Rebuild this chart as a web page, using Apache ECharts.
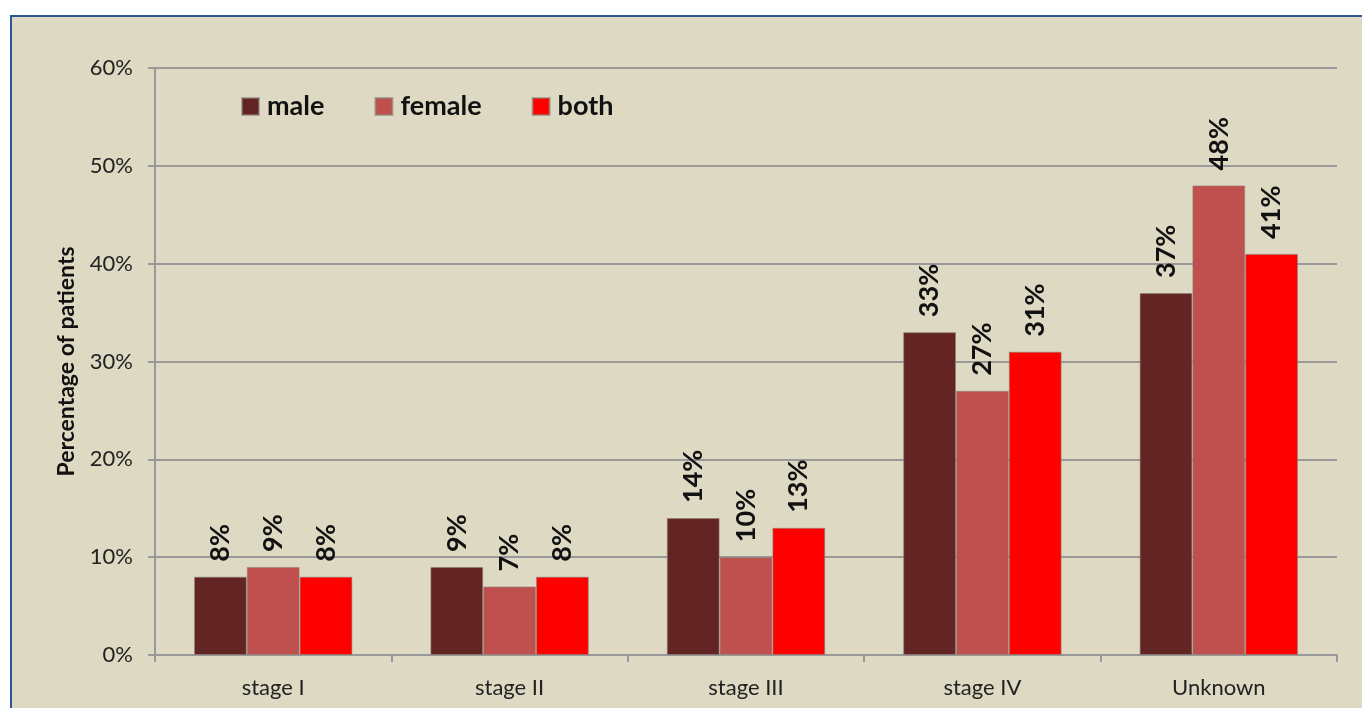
<!DOCTYPE html>
<html>

<head>
    <meta charset="utf-8">
    <title>Percentage of patients by stage</title>
    <style>
        body {
            margin: 0;
            background: #ffffff;
        }
        #frame {
            position: absolute;
            left: 10px;
            top: 15px;
            width: 1350px;
            height: 691px;
            background: #DDD9C3;
            border-top: 2px solid #2E5597;
            border-left: 2px solid #2E5597;
        }
        #main {
            position: absolute;
            left: 0;
            top: 0;
            width: 1362px;
            height: 708px;
        }
    </style>
</head>

<body>
<div id="frame"></div>
<div id="main"></div>

<script src="https://cdn.jsdelivr.net/npm/echarts@6/dist/echarts.min.js"></script>
<script>
    // chart data
    var categories = ['stage I', 'stage II', 'stage III', 'stage IV', 'Unknown'];
    var maleValues = [8, 9, 14, 33, 37];
    var femaleValues = [9, 7, 10, 27, 48];
    var bothValues = [8, 8, 13, 31, 41];
    var yTicks = [0, 10, 20, 30, 40, 50, 60];

    var myChart = echarts.init(document.getElementById('main'));

    var labelStyle = {
        show: true,
        position: 'top',
        rotate: 90,
        align: 'left',
        verticalAlign: 'middle',
        distance: 15,
        fontFamily: 'Lato',
        fontWeight: 'bold',
        fontSize: 27,
        color: '#111',
        formatter: '{c}%'
    };

    function makeSeries(name, data, color) {
        return {
            name: name,
            type: 'bar',
            data: data,
            barGap: '0%',
            barCategoryGap: '33%',
            itemStyle: {
                color: color,
                borderColor: 'rgba(140,130,120,0.6)',
                borderWidth: 1
            },
            label: labelStyle
        };
    }

    var option = {
        animation: false,
        textStyle: {
            fontFamily: 'Lato'
        },
        legend: {
            left: 236,
            top: 88,
            itemWidth: 17,
            itemHeight: 17,
            itemGap: 50,
            icon: 'rect',
            textStyle: {
                fontFamily: 'Lato',
                fontWeight: 'bold',
                fontSize: 27,
                color: '#111',
                padding: [0, 0, 0, 3]
            },
            data: ['male', 'female', 'both']
        },
        grid: {
            left: 155,
            right: 25,
            top: 68,
            bottom: 53,
            containLabel: false
        },
        xAxis: {
            type: 'category',
            data: categories,
            axisLine: {
                lineStyle: {color: '#999', width: 2}
            },
            axisTick: {
                show: true,
                length: 7,
                lineStyle: {color: '#999', width: 2}
            },
            axisLabel: {
                margin: 22,
                fontSize: 22,
                color: '#222'
            }
        },
        yAxis: {
            type: 'value',
            min: yTicks[0],
            max: yTicks[yTicks.length - 1],
            interval: 10,
            name: 'Percentage of patients',
            nameLocation: 'middle',
            nameGap: 77,
            nameTextStyle: {
                fontFamily: 'Lato',
                fontWeight: 'bold',
                fontSize: 23,
                color: '#111'
            },
            axisLine: {
                show: true,
                lineStyle: {color: '#999', width: 2}
            },
            axisTick: {
                show: true,
                length: 7,
                lineStyle: {color: '#999', width: 2}
            },
            axisLabel: {
                margin: 22,
                fontSize: 22,
                color: '#222',
                formatter: '{value}%'
            },
            splitLine: {
                lineStyle: {color: '#999', width: 2}
            }
        },
        series: [
            makeSeries('male', maleValues, '#632523'),
            makeSeries('female', femaleValues, '#C0504D'),
            makeSeries('both', bothValues, '#FF0000')
        ]
    };

    myChart.setOption(option);
</script>
</body>
</html>
